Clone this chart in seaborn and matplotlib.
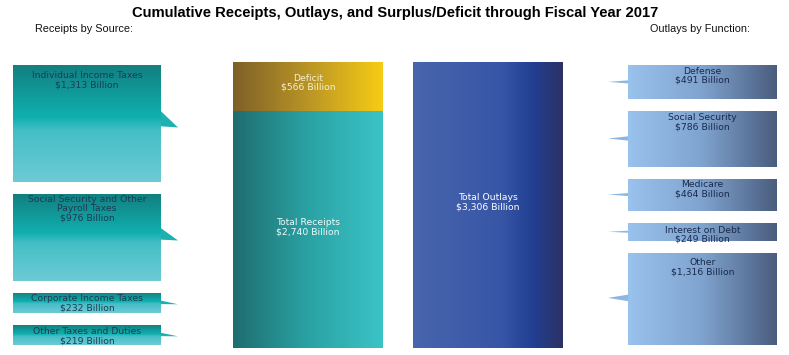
import numpy as np
import matplotlib
matplotlib.use("Agg")
import matplotlib.pyplot as plt
import seaborn as sns
from matplotlib.patches import Rectangle, Polygon
from matplotlib.colors import to_rgb

# ---------------- data ----------------
title = "Cumulative Receipts, Outlays, and Surplus/Deficit through Fiscal Year 2017"
left_header = "Receipts by Source:"
right_header = "Outlays by Function:"

receipt_sources = ["Individual Income Taxes",
                   "Social Security and Other\nPayroll Taxes",
                   "Corporate Income Taxes",
                   "Other Taxes and Duties"]
receipt_values = [1313, 976, 232, 219]

outlay_functions = ["Defense", "Social Security", "Medicare",
                    "Interest on Debt", "Other"]
outlay_values = [491, 786, 464, 249, 1316]

bar_categories = ["Receipts", "Outlays"]
total_receipts = 2740
total_outlays = 3306
deficit = 566

# ---------------- layout / style ----------------
W, H = 789, 355
sns.set_theme(style="white")
plt.rcParams["font.family"] = ["DejaVu Sans"]

fig = plt.figure(figsize=(W / 100, H / 100), dpi=100)
ax0 = fig.add_axes([0, 0, 1, 1])
ax0.set_xlim(0, W)
ax0.set_ylim(H, 0)
ax0.axis("off")


def grad_img(stops, n=256, vertical=False):
    pos = [s[0] for s in stops]
    cols = np.array([to_rgb(s[1]) for s in stops])
    t = np.linspace(0, 1, n)
    arr = np.stack([np.interp(t, pos, cols[:, k]) for k in range(3)], axis=-1)
    if vertical:
        return arr[:, None, :]
    return arr[None, :, :]


def fill_gradient(ax, patch, stops, vertical=False, zorder=2, flip=False):
    bb = patch.get_bbox()
    x0, x1, y0, y1 = bb.x0, bb.x1, bb.y0, bb.y1
    img = grad_img(stops, vertical=vertical)
    extent = (x0, x1, y1, y0) if flip else (x0, x1, y0, y1)
    im = ax.imshow(img, extent=extent, aspect="auto", origin="upper",
                   zorder=zorder, interpolation="bilinear")
    im.set_clip_path(patch)


teal_v = [(0, "#137f80"), (0.45, "#10b0b0"), (0.56, "#45bec6"), (1, "#6dcbd5")]
blue_h = [(0, "#99c2ec"), (0.5, "#7fa3cf"), (1, "#4a5d7e")]
deficit_h = [(0, "#7e6029"), (0.5, "#b99525"), (1, "#f7cc14")]
receipt_h = [(0, "#1f6d6f"), (0.5, "#2aa2a4"), (1, "#3cc3c6")]
outlay_h = [(0, "#4865ad"), (0.6, "#3655a5"), (0.8, "#223f92"), (1, "#2c3165")]

# ---------------- title / headers ----------------
ax0.text(395, 13, title, ha="center", va="center", fontsize=10.6,
         fontweight="bold", family=["Liberation Sans"], color="#000000")
ax0.text(35, 29, left_header, ha="left", va="center", fontsize=7.8,
         family=["Liberation Sans"], color="#111111")
ax0.text(750, 29, right_header, ha="right", va="center", fontsize=7.8,
         family=["Liberation Sans"], color="#111111")

# ---------------- middle bars (seaborn) ----------------
bx0, bx1, by0, by1 = 233, 563, 62, 348
axm = fig.add_axes([bx0 / W, (H - by1) / H, (bx1 - bx0) / W, (by1 - by0) / H])
bw = 150 / 180
sns.barplot(x=bar_categories, y=[total_receipts + deficit, total_outlays],
            order=bar_categories, width=bw, color="#c9a020", saturation=1,
            ax=axm, edgecolor="none")
sns.barplot(x=[bar_categories[0]], y=[total_receipts], order=bar_categories,
            width=bw, color="#2aa2a4", saturation=1, ax=axm, edgecolor="none")
pats = list(axm.patches)
pats[0].set_zorder(1)
pats[1].set_zorder(1)
pats[2].set_zorder(3)
fill_gradient(axm, pats[0], deficit_h, zorder=1.5)
fill_gradient(axm, pats[1], outlay_h, zorder=1.5)
fill_gradient(axm, pats[2], receipt_h, zorder=3.5)
axm.set_xlim(-bw / 2, 1 + bw / 2)
axm.set_ylim(0, total_outlays)
axm.axis("off")

fs = 6.7
axm.text(0, total_receipts + deficit * 0.58, f"Deficit\n${deficit:,} Billion",
         ha="center", va="center", fontsize=fs, color="#f6efcf",
         linespacing=1.0, zorder=5)
axm.text(0, total_receipts * 0.51, f"Total Receipts\n${total_receipts:,} Billion",
         ha="center", va="center", fontsize=fs, color="#eefafa",
         linespacing=1.0, zorder=5)
axm.text(1, total_outlays * 0.51, f"Total Outlays\n${total_outlays:,} Billion",
         ha="center", va="center", fontsize=fs, color="#ffffff",
         linespacing=1.0, zorder=5)

# ---------------- side boxes ----------------
top, avail_h, gap = 65, 280, 12


def side_boxes(values, labels, x0, x1, stops, vertical, side, ptr_color,
               text_color, pads):
    n = len(values)
    scale = (avail_h - gap * (n - 1)) / sum(values)
    y = top
    for v, lab, pad in zip(values, labels, pads):
        h = v * scale
        rect = Rectangle((x0, y), x1 - x0, h, facecolor="none",
                         edgecolor="none", zorder=2)
        ax0.add_patch(rect)
        fill_gradient(ax0, rect, stops, vertical=vertical, zorder=2,
                      flip=True)
        mid = y + h / 2
        if side == "right":
            tri = [(x1, mid - 0.1 * h - 0.5), (x1 + 17, mid + 0.03 * h + 0.5),
                   (x1, mid + 0.02 * h + 0.5)]
        else:
            tri = [(x0, mid - 0.04 * h - 0.5), (x0 - 20, mid - 0.01 * h),
                   (x0, mid + 0.02 * h + 0.5)]
        ax0.add_patch(Polygon(tri, closed=True, facecolor=ptr_color,
                              edgecolor="none", zorder=2))
        ax0.text((x0 + x1) / 2, y + pad, f"{lab}\n${v:,} Billion",
                 ha="center", va="top", fontsize=fs, color=text_color,
                 linespacing=1.0, zorder=4)
        y += h + gap


side_boxes(receipt_values, receipt_sources, 13, 161, teal_v, True, "right",
           "#1fb0b0", "#1c3b55", [6.5, 1.5, 1.5, 2])
side_boxes(outlay_values, outlay_functions, 628, 777, blue_h, False, "left",
           "#8db6e0", "#1a2a4c", [2, 2, 1.5, 2.5, 5.5])

fig.savefig("out.png", dpi=100, facecolor="white")
